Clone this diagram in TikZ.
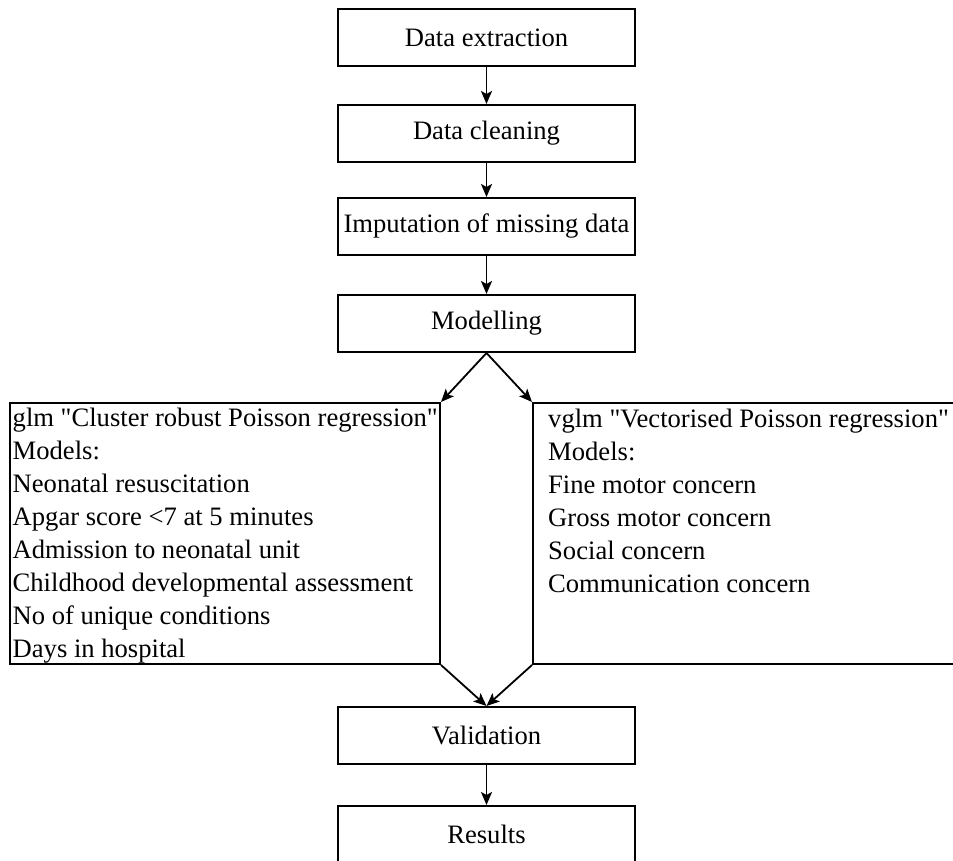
\documentclass[tikz,border=0pt]{standalone}
\usepackage{fontspec}
\setmainfont{Liberation Serif}
\usetikzlibrary{arrows.meta,positioning}
\begin{document}
\begin{tikzpicture}[x=1pt,y=-1pt,
  every node/.style={font=\fontsize{26.6}{33}\selectfont},
  stepbox/.style={draw,line width=2pt,minimum width=297pt,minimum height=57pt,inner sep=0pt,anchor=center},
  bigbox/.style={draw,line width=2pt,inner sep=0pt,anchor=north west},
  listtext/.style={align=left,anchor=west,inner sep=0pt},
  arr/.style={line width=1.8pt,-{Stealth[length=13pt,width=11pt,inset=3pt]}}]
\useasboundingbox (0,0) rectangle (953,861);
\clip (0,0) rectangle (953,861);
\node[stepbox] (extract) at (486.5,37.5) {Data extraction};
\node[stepbox] (clean) at (486.5,133.5) {Data cleaning};
\node[stepbox] (impute) at (486.5,226.5) {Imputation of missing data};
\node[stepbox] (model) at (486.5,323.5) {Modelling};
\node[bigbox,minimum width=430pt,minimum height=261pt] (left) at (9,402) {};
\node[bigbox,minimum width=440pt,minimum height=261pt] (right) at (532,402) {};
\node[listtext] (lefttext) at ([xshift=3.5pt,yshift=-2pt]left.west) {glm \textquotedbl Cluster robust Poisson regression\textquotedbl\\Models:\\Neonatal resuscitation\\Apgar score <7 at 5 minutes\\Admission to neonatal unit\\Childhood developmental assessment\\No of unique conditions\\Days in hospital};
\node[listtext,anchor=north west] (righttext) at ([xshift=16pt,yshift=-6.5pt]right.north west) {vglm \textquotedbl Vectorised Poisson regression\textquotedbl\\Models:\\Fine motor concern\\Gross motor concern\\Social concern\\Communication concern};
\node[stepbox] (valid) at (486.5,735.5) {Validation};
\node[stepbox] (results) at (486.5,834.5) {Results};
\draw[arr] (extract) -- (clean);
\draw[arr] (clean) -- (impute);
\draw[arr] (impute) -- (model);
\draw[arr] (model.south) -- (left.north east);
\draw[arr] (model.south) -- (right.north west);
\draw[arr] (left.south east) -- (valid.north);
\draw[arr] (right.south west) -- (valid.north);
\draw[arr] (valid) -- (results);
\end{tikzpicture}
\end{document}
